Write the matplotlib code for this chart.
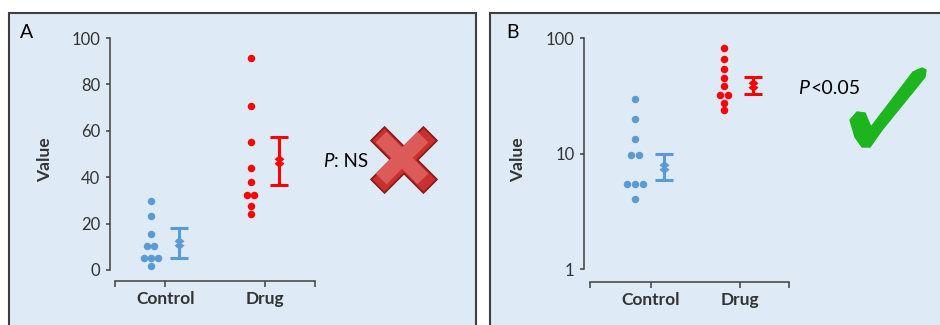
import numpy as np
import matplotlib
matplotlib.use("Agg")
import matplotlib.pyplot as plt
from matplotlib.patches import Rectangle, Polygon
from matplotlib.ticker import NullLocator

plt.rcParams['font.family'] = ['Lato', 'DejaVu Sans']

categories = ['Control', 'Drug']

# panel A, linear axis
a_control = [29.6, 23.3, 15.6, 10.3, 10.3, 5.0, 5.0, 5.0, 1.7]
a_drug = [91.5, 70.7, 55.0, 43.8, 38.0, 32.3, 32.3, 27.7, 24.3]
a_mean = [11.8, 47.0]
a_low = [5.0, 36.6]
a_high = [18.0, 57.5]

# panel B, log axis
b_control = [30.0, 20.0, 13.5, 9.8, 9.8, 5.5, 5.5, 5.5, 4.1]
b_drug = [82.0, 66.0, 54.5, 45.0, 38.5, 32.5, 32.5, 27.5, 24.0]
b_mean = [7.7, 39.6]
b_low = [5.9, 33.2]
b_high = [9.9, 46.6]

W, H = 940, 325
BLUE = '#5B9BD5'
RED = '#FF0000'
BG = '#DEEBF7'
AXC = '#404040'
TXT = '#333333'


def swarm_x(values, center, step):
    values = np.asarray(values)
    xs = np.full(len(values), float(center))
    for v in np.unique(values):
        idx = np.where(values == v)[0]
        xs[idx] = center + (np.arange(len(idx)) - (len(idx) - 1) / 2) * step
    return xs


def box(x0, y0, x1, y1):
    # pixel box (top-left origin) -> figure fraction
    return [x0 / W, 1 - y1 / H, (x1 - x0) / W, (y1 - y0) / H]


def draw_panel(ax, groups, means, lows, highs, xlim, dot_dx, bar_dx, step, out_left, out_bottom):
    for i, (vals, c) in enumerate(zip(groups, [BLUE, RED])):
        pos = i + 1
        ax.plot(swarm_x(vals, pos + dot_dx, step), vals, 'o', color=c, ms=5.4,
                mec='none', clip_on=False, zorder=3)
        ax.errorbar(pos + bar_dx, means[i],
                    yerr=[[means[i] - lows[i]], [highs[i] - means[i]]],
                    fmt='none', ecolor=c, elinewidth=2.2, capsize=6.7, capthick=2.2,
                    clip_on=False, zorder=3)
        ax.plot(pos + bar_dx, means[i], marker='X', ms=7, color=c, mec='none',
                clip_on=False, zorder=4)

    ax.set_facecolor('none')
    ax.set_xlim(xlim)
    ax.set_xticks([xlim[0], 1, 2, xlim[1]])
    ax.set_xticklabels([''] + categories + [''])
    for s in ['top', 'right']:
        ax.spines[s].set_visible(False)
    ax.spines['left'].set_position(('outward', out_left))
    ax.spines['bottom'].set_position(('outward', out_bottom))
    for s in ['left', 'bottom']:
        ax.spines[s].set_color(AXC)
        ax.spines[s].set_linewidth(1.1)
    ax.tick_params(axis='x', length=4.3, width=1.1, color=AXC, pad=3,
                   labelsize=12.5, labelcolor=TXT)
    ax.tick_params(axis='y', length=3, width=1.1, color=AXC, pad=4, labelsize=12, labelcolor=TXT)


fig = plt.figure(figsize=(W / 100, H / 100), dpi=100)
bg = fig.add_axes([0, 0, 1, 1], zorder=0)
bg.set_xlim(0, W)
bg.set_ylim(H, 0)
bg.axis('off')

bg.add_patch(Rectangle((9, 13), 467.3, 330, fc=BG, ec='#3F3F3F', lw=1.5))
bg.add_patch(Rectangle((490, 13), 470, 330, fc=BG, ec='#3F3F3F', lw=1.5))

# panel A
axA = fig.add_axes(box(115.3, 38, 315.3, 270), zorder=1)
draw_panel(axA, [a_control, a_drug], a_mean, a_low, a_high, (0.5, 2.5),
           -0.145, 0.135, 0.073, 3.8, 7.9)
axA.set_ylim(0, 100)
axA.set_yticks(np.arange(0, 101, 20))

# panel B
axB = fig.add_axes(box(590.3, 38.3, 789.3, 269.3), zorder=1)
axB.set_yscale('log')
draw_panel(axB, [b_control, b_drug], b_mean, b_low, b_high, (0.32, 2.55),
           -0.18, 0.145, 0.088, 4.3, 9.4)
axB.set_ylim(1, 100)
axB.set_yticks([1, 10, 100])
axB.set_yticklabels(['1', '10', '100'])
axB.yaxis.set_minor_locator(NullLocator())

for ax in (axA, axB):
    for lbl in ax.get_xticklabels():
        lbl.set_fontweight('bold')

# labels
fig.text(45 / W, 1 - 160 / H, 'Value', rotation=90, ha='center', va='center',
         fontweight='bold', fontsize=12.5, color=TXT)
fig.text(518 / W, 1 - 160 / H, 'Value', rotation=90, ha='center', va='center',
         fontweight='bold', fontsize=12.5, color=TXT)
bg.text(20, 38, 'A', fontsize=14, va='baseline', color='black')
bg.text(506.5, 38, 'B', fontsize=14, va='baseline', color='black')

bg.text(322.7, 166.7, 'P', fontsize=13.5, style='italic', va='baseline', color='black')
bg.text(333.5, 166.7, ': NS', fontsize=13.5, va='baseline', color='black')
bg.text(798.3, 94.3, 'P', fontsize=14, style='italic', va='baseline', color='black')
bg.text(810.5, 94.3, '<0.05', fontsize=14, va='baseline', color='black')

# red cross icon
a, b = 37.0, 9.5
plus = np.array([(b, b), (a, b), (a, -b), (b, -b), (b, -a), (-b, -a),
                 (-b, -b), (-a, -b), (-a, b), (-b, b), (-b, a), (b, a)])
rot = np.array([[np.cos(np.pi / 4), -np.sin(np.pi / 4)],
                [np.sin(np.pi / 4), np.cos(np.pi / 4)]])
cross = plus @ rot.T
cx, cy = 404, 160
bg.add_patch(Polygon(cross + [cx, cy], closed=True, fc='#C93030', ec='#8B1A1A', lw=1.3))
bg.add_patch(Polygon(cross * 0.8 + [cx - 2, cy - 2], closed=True, fc='#DC5A58', ec='none'))

# green check icon
check = np.array([(850, 120), (857, 112), (865, 113), (871, 127), (913, 72), (922, 68),
                  (926, 70), (925, 77), (882, 130), (870, 147), (862, 147), (855, 137)])
bg.add_patch(Polygon(check, closed=True, fc='#1DB51D', ec='#1DB51D', lw=1, joinstyle='round'))

fig.savefig('out.png', dpi=100)
